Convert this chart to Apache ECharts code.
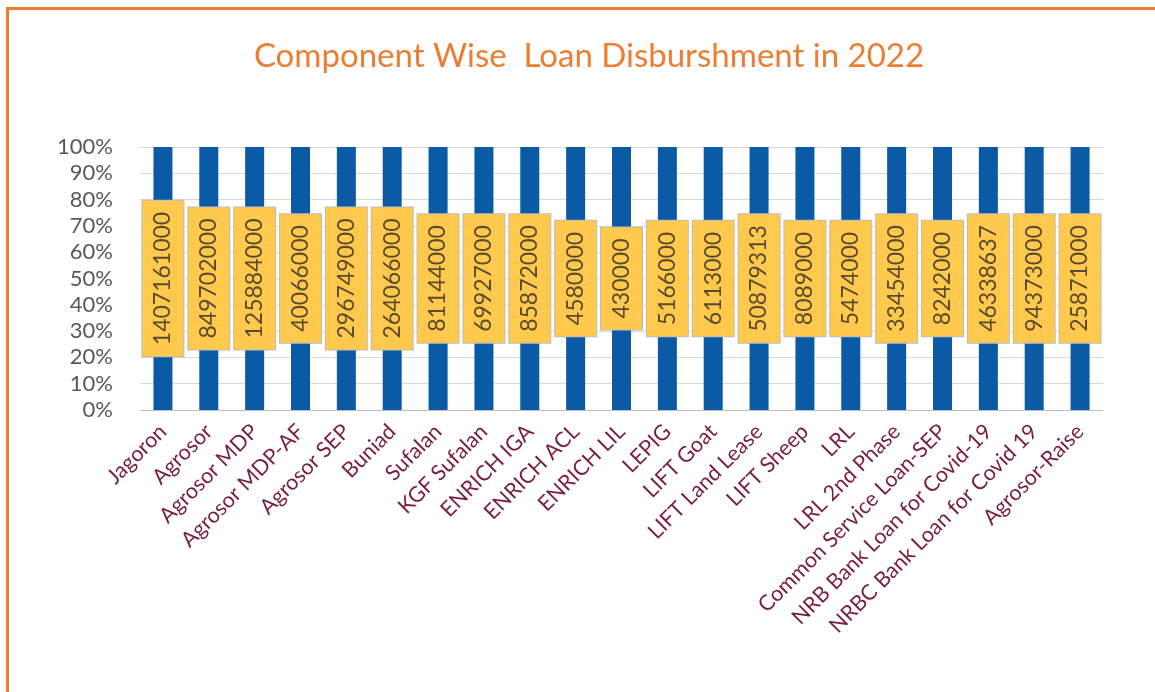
<!DOCTYPE html>
<html>
<head>
<meta charset="utf-8">
<script src="https://cdn.jsdelivr.net/npm/echarts@6/dist/echarts.min.js"></script>
<style>
html,body{margin:0;padding:0;background:#fff;}
#chart{width:1155px;height:692px;}
</style>
</head>
<body>
<div id="chart"></div>
<script>
const categories = ["Jagoron","Agrosor","Agrosor MDP","Agrosor MDP-AF","Agrosor SEP","Buniad","Sufalan","KGF Sufalan","ENRICH IGA","ENRICH ACL","ENRICH LIL","LEPIG","LIFT Goat","LIFT Land Lease","LIFT Sheep","LRL","LRL 2nd Phase","Common Service Loan-SEP","NRB Bank Loan for Covid-19","NRBC Bank Loan for Covid 19","Agrosor-Raise"];
const loanAmounts = [1407161000,849702000,125884000,40066000,296749000,264066000,81144000,69927000,85872000,4580000,430000,5166000,6113000,50879313,8089000,5474000,33454000,8242000,46338637,94373000,25871000];
const percentShare = [100,100,100,100,100,100,100,100,100,100,100,100,100,100,100,100,100,100,100,100,100];
const titleText = "Component Wise  Loan Disburshment in 2022";

const chart = echarts.init(document.getElementById('chart'), null, {renderer: 'canvas'});
chart.setOption({
  animation: false,
  backgroundColor: '#ffffff',
  title: {
    text: titleText,
    left: 584,
    top: 35,
    textAlign: 'center',
    textStyle: {fontFamily: 'Lato', fontSize: 33, fontWeight: 'normal', color: '#ED7D31'}
  },
  graphic: [{
    type: 'rect',
    shape: {x: 7.5, y: 8.5, width: 1300, height: 900},
    style: {fill: 'none', stroke: '#ED7D31', lineWidth: 3},
    silent: true
  }],
  grid: {left: 140, right: 52, top: 147, bottom: 282},
  xAxis: {
    type: 'category',
    data: categories,
    axisTick: {show: false},
    axisLine: {lineStyle: {color: '#BFBFBF', width: 1}},
    axisLabel: {
      interval: 0,
      rotate: 45,
      margin: 18,
      fontFamily: 'Lato',
      fontSize: 21.5,
      color: '#7A1E3E'
    }
  },
  yAxis: {
    type: 'value',
    min: 0,
    max: 100,
    interval: 10,
    axisLine: {show: false},
    axisTick: {show: false},
    splitLine: {lineStyle: {color: '#D9D9D9'}},
    axisLabel: {
      formatter: '{value}%',
      margin: 27,
      fontFamily: 'Lato',
      fontSize: 22,
      color: '#595959'
    }
  },
  series: [{
    type: 'bar',
    data: percentShare,
    barWidth: 19,
    itemStyle: {color: '#0B5AA6'},
    label: {
      show: true,
      position: 'inside',
      rotate: 90,
      formatter: function (p) { return String(loanAmounts[p.dataIndex]); },
      fontFamily: 'Lato',
      fontSize: 23,
      color: '#5A4A2E',
      backgroundColor: '#FFC94D',
      borderColor: '#BDBDBD',
      borderWidth: 1,
      padding: [9, 11]
    }
  }]
});
</script>
</body>
</html>
